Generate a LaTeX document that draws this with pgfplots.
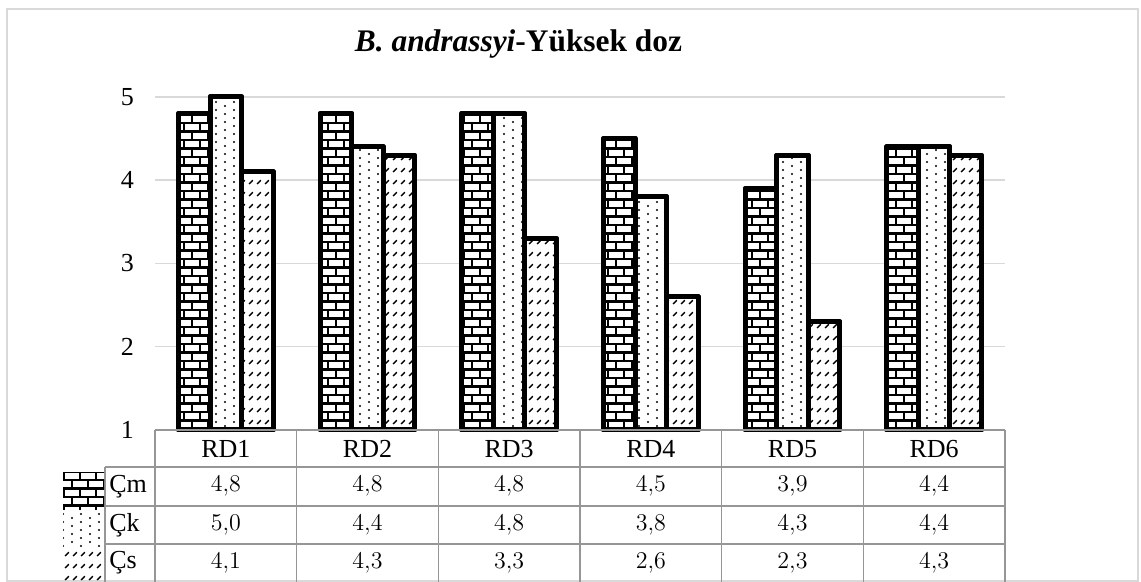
\documentclass[border=0pt]{standalone}
\usepackage{fontspec}
\setmainfont{Liberation Serif}[
  BoldFont=Liberation Serif Bold,
  ItalicFont=Liberation Serif Italic,
  BoldItalicFont=Liberation Serif Bold Italic]
\usepackage{pgfplots}
\usepackage{pgfplotstable}
\pgfplotsset{compat=1.18}
\usetikzlibrary{patterns}

% fill patterns of the three series
\pgfdeclarepatternformonly{cbricks}{\pgfqpoint{-1pt}{-1pt}}{\pgfqpoint{9pt}{9.5pt}}{\pgfqpoint{8pt}{8.5pt}}{%
  \pgfsetlinewidth{1.35pt}%
  \pgfpathmoveto{\pgfqpoint{-1pt}{0pt}}\pgfpathlineto{\pgfqpoint{9pt}{0pt}}%
  \pgfpathmoveto{\pgfqpoint{-1pt}{4.25pt}}\pgfpathlineto{\pgfqpoint{9pt}{4.25pt}}%
  \pgfpathmoveto{\pgfqpoint{0pt}{0pt}}\pgfpathlineto{\pgfqpoint{0pt}{4.25pt}}%
  \pgfpathmoveto{\pgfqpoint{4pt}{4.25pt}}\pgfpathlineto{\pgfqpoint{4pt}{8.5pt}}%
  \pgfusepath{stroke}}
\pgfdeclarepatternformonly{cdots}{\pgfqpoint{-1pt}{-1pt}}{\pgfqpoint{5.5pt}{3pt}}{\pgfqpoint{9pt}{4pt}}{%
  \pgfpathcircle{\pgfqpoint{0pt}{0pt}}{0.6pt}%
  \pgfpathcircle{\pgfqpoint{4.5pt}{2pt}}{0.6pt}%
  \pgfusepath{fill}}
\pgfdeclarepatternformonly{cdash}{\pgfqpoint{-0.5pt}{-0.5pt}}{\pgfqpoint{4.5pt}{6.5pt}}{\pgfqpoint{4pt}{6pt}}{%
  \pgfsetlinewidth{0.7pt}%
  \pgfpathmoveto{\pgfqpoint{0.6pt}{1pt}}\pgfpathlineto{\pgfqpoint{2.4pt}{2.9pt}}%
  \pgfusepath{stroke}}

\definecolor{gridgray}{RGB}{217,217,217}
\definecolor{tablegray}{RGB}{150,150,150}

\pgfplotstableread{
x cm ck cs
0 4.8 5.0 4.1
1 4.8 4.4 4.3
2 4.8 4.8 3.3
3 4.5 3.8 2.6
4 3.9 4.3 2.3
5 4.4 4.4 4.3
}\datatable

\newcommand\cellfont{\fontsize{13}{15}\selectfont}

\begin{document}
\begin{tikzpicture}
\begin{axis}[
  at={(77.5pt,-215pt)}, anchor=south west,
  scale only axis, width=425pt, height=166.5pt,
  xmin=-0.5, xmax=5.5, ymin=1, ymax=5,
  ytick={1,2,3,4,5}, xtick=\empty,
  ymajorgrids, grid style={gridgray, line width=0.75pt},
  axis line style={draw=none}, major tick length=0pt,
  /pgf/number format/assume math mode=true,
  yticklabel style={font=\cellfont, anchor=east, xshift=-7pt},
  ybar=0pt, bar width=15.75pt, clip=false,
  barstyle/.style={draw=black, line width=2.5pt, line join=round, fill=white},
]
\addplot[barstyle, postaction={pattern=cbricks}] table[x=x, y=cm] {\datatable};
\addplot[barstyle, postaction={pattern=cdots}] table[x=x, y=ck] {\datatable};
\addplot[barstyle, postaction={pattern=cdash}] table[x=x, y=cs] {\datatable};
\end{axis}

\begin{scope}[x=0.5pt, y=-0.5pt]
  \useasboundingbox (0,0) rectangle (1141,582);
  % outer chart frame
  \draw[gridgray, line width=0.75pt] (7,9) rectangle (1138,581);
  % title
  \node[anchor=base, inner sep=0pt, font=\fontsize{15.7}{18}\selectfont\bfseries]
    at (518.5,52) {\textit{B. andrassyi}-Yüksek doz};
  % data table grid
  \begin{scope}[tablegray, line width=0.75pt]
    \draw (155,430) -- (1005,430);
    \foreach \yy in {467,506,544} \draw (105,\yy) -- (1005,\yy);
    \draw (105,467) -- (105,582);
    \foreach \k in {0,...,6} \draw ({155+141.667*\k},430) -- ({155+141.667*\k},582);
  \end{scope}
  % column headers
  \foreach \k/\name in {0/RD1,1/RD2,2/RD3,3/RD4,4/RD5,5/RD6}
    \node[font=\cellfont] at ({155+141.667*(\k+0.5)},449) {\name};
  % legend keys and row names
  \fill[pattern=cbricks] (63,473) rectangle (104,510);
  \fill[pattern=cdots] (63,512) rectangle (104,547);
  \fill[pattern=cdash] (63,550) rectangle (104,582);
  \foreach \yy/\name in {486.5/Çm,525/Çk,563/Çs}
    \node[anchor=west, font=\cellfont, inner sep=0pt] at (109,\yy) {\name};
  % values
  \foreach \col/\yy in {cm/486.5,ck/525,cs/563} {
    \foreach \k in {0,...,5} {
      \pgfplotstablegetelem{\k}{\col}\of\datatable
      \node[font=\cellfont] at ({155+141.667*(\k+0.5)},\yy)
        {\pgfmathprintnumber[fixed, fixed zerofill, precision=1, use comma]{\pgfplotsretval}};
    }
  }
\end{scope}
\end{tikzpicture}
\end{document}
